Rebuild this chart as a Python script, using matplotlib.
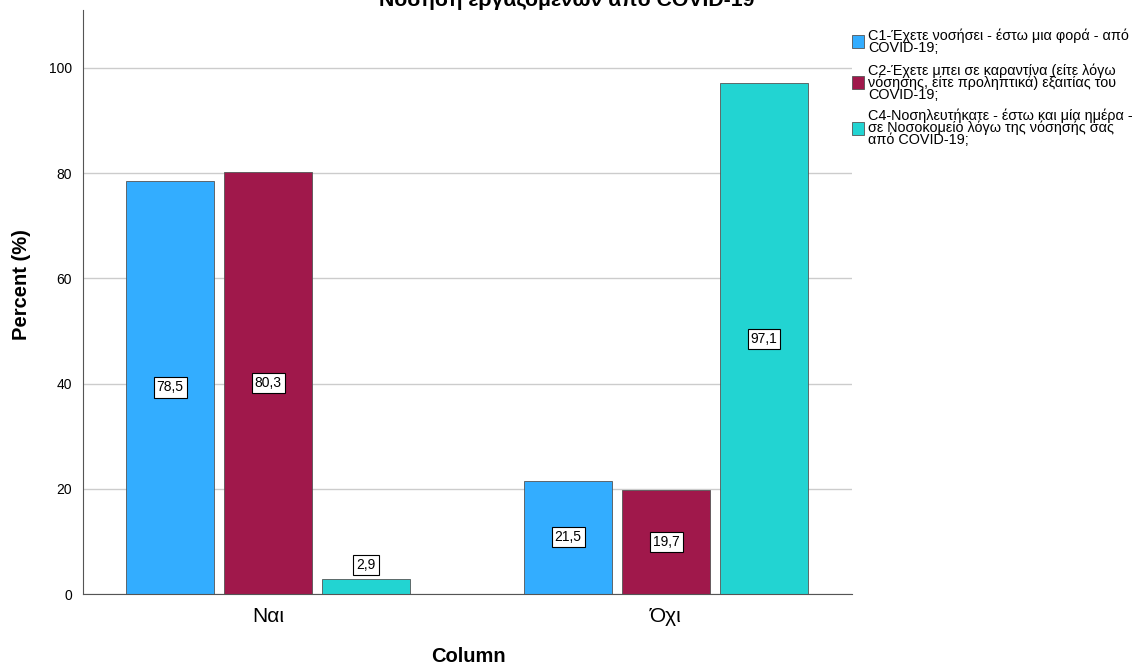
import numpy as np
from matplotlib import pyplot as plt
from matplotlib.patches import Rectangle

categories = ['Ναι', 'Όχι']
series_names = [
    'C1-Έχετε νοσήσει - έστω μια φορά - από\nCOVID-19;',
    'C2-Έχετε μπει σε καραντίνα (είτε λόγω\nνόσησης, είτε προληπτικά) εξαιτίας του\nCOVID-19;',
    'C4-Νοσηλευτήκατε - έστω και μία ημέρα -\nσε Νοσοκομείο λόγω της νόσησής σας\nαπό COVID-19;',
]
c1 = [78.5, 21.5]
c2 = [80.3, 19.7]
c4 = [2.9, 97.1]
colors = ['#33adff', '#a0184b', '#22d4d2']

plt.rcParams['font.family'] = ['Liberation Sans', 'DejaVu Sans']

W, H = 1137, 666


def main():
    fig = plt.figure(figsize=(W / 100, H / 100), dpi=100)
    ax = fig.add_axes([83 / W, 72 / H, 769 / W, 584 / H])

    x = np.arange(len(categories))
    width = 0.221
    step = 0.246
    series = [c1, c2, c4]
    for i, vals in enumerate(series):
        pos = x + (i - 1) * step
        ax.bar(pos, vals, width, color=colors[i], edgecolor='#555555', linewidth=0.6, zorder=2)
        for px, v in zip(pos, vals):
            lab = f'{v:.1f}'.replace('.', ',')
            y = v / 2 if v > 8 else v + 2.6
            ax.text(px, y, lab, ha='center', va='center', fontsize=10, zorder=3,
                    bbox=dict(boxstyle='square,pad=0.22', fc='white', ec='black', lw=0.8))

    ax.set_xlim(-0.465, 1.467)
    ax.set_ylim(0, 111)
    ax.set_yticks([0, 20, 40, 60, 80, 100])
    ax.set_xticks(x)
    ax.set_xticklabels(categories, fontsize=15, family=['Liberation Sans Narrow', 'Liberation Sans'])
    ax.tick_params(axis='y', length=0, labelsize=10, pad=8)
    ax.tick_params(axis='x', length=0, pad=9)
    ax.yaxis.grid(True, color='#cccccc', linewidth=1, zorder=0)
    ax.set_axisbelow(True)
    for s in ['top', 'right']:
        ax.spines[s].set_visible(False)
    ax.spines['left'].set_color('#555555')
    ax.spines['bottom'].set_color('#555555')

    fig.text(22 / W, 1 - 285 / H, 'Percent (%)', rotation=90, ha='center', va='center',
             fontsize=14.5, fontweight='bold')
    fig.text(468 / W, 1 - 657 / H, 'Column', ha='center', va='center',
             fontsize=14.5, fontweight='bold')
    fig.text(567 / W, 1 - 6 / H, 'Νόσηση εργαζομένων από COVID-19', ha='center',
             va='baseline', fontsize=15.3, fontweight='bold')

    # legend drawn by hand, SPSS style
    leg_y = [41.5, 82.5, 128]
    for i, name in enumerate(series_names):
        fig.patches.append(Rectangle((852 / W, 1 - (leg_y[i] + 6.5) / H), 12 / W, 13 / H,
                                     transform=fig.transFigure, fc=colors[i], ec='#555555', lw=0.6))
        fig.text(868 / W, 1 - leg_y[i] / H, name, ha='left', va='center', fontsize=10.4,
                 linespacing=0.8)

    plt.savefig('out.png', dpi=100)


if __name__ == '__main__':
    main()
